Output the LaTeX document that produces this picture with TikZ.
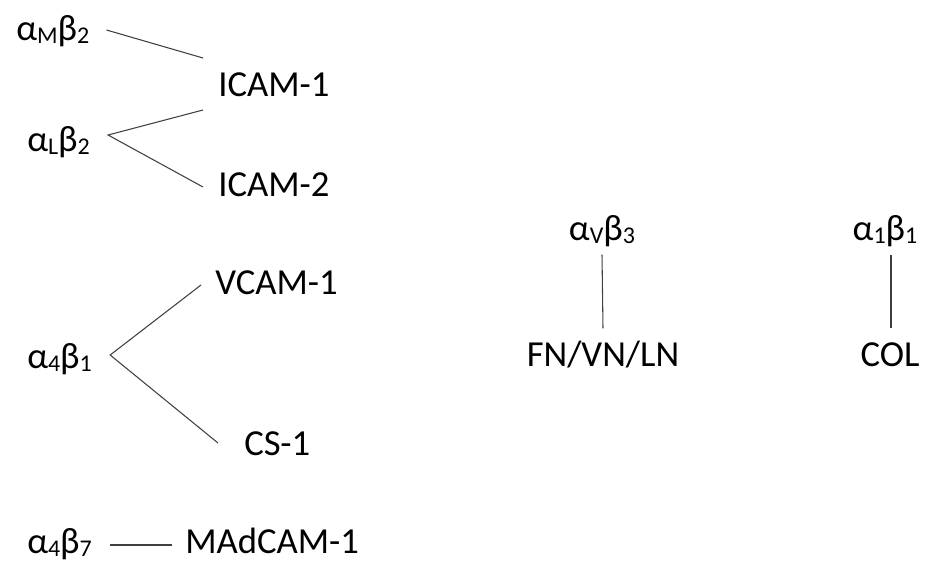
\documentclass[tikz,border=0pt]{standalone}
\usepackage{fontspec}
\setmainfont{Carlito}
\usetikzlibrary{calc}
\definecolor{linkgray}{HTML}{404040}
\newcommand{\lo}[1]{\raisebox{-2.6pt}{\fontsize{18}{18}\selectfont #1}}
\tikzset{
  lbl/.style={inner sep=0pt, text height=17pt, text depth=0pt, font=\fontsize{27.5}{30}\selectfont},
  link/.style={draw=linkgray, line width=0.8pt}
}

\begin{document}
\begin{tikzpicture}[x=0.75pt, y=-0.75pt]
  \useasboundingbox (0,0) rectangle (925,562);
  % integrins
  \node[lbl, anchor=west] (amb2) at (16,29) {α\lo{M}β\lo{2}};
  \node[lbl, anchor=west] (alb2) at (27,140) {α\lo{L}β\lo{2}};
  \node[lbl, anchor=west] (a4b1) at (27,357) {α\lo{4}β\lo{1}};
  \node[lbl, anchor=west] (a4b7) at (27,542) {α\lo{4}β\lo{7}};
  \node[lbl] (avb3) at (602,229) {α\lo{V}β\lo{3}};
  \node[lbl] (a1b1) at (885,229) {α\lo{1}β\lo{1}};
  % ligands
  \node[lbl, anchor=west] (icam1) at (218,85) {ICAM-1};
  \node[lbl, anchor=west] (icam2) at (218,185) {ICAM-2};
  \node[lbl, anchor=west] (vcam1) at (215,283) {VCAM-1};
  \node[lbl, anchor=west] (cs1) at (244,444) {CS-1};
  \node[lbl, anchor=west] (madcam) at (185,542) {MAdCAM-1};
  \node[lbl] (fvl) at (603,355) {FN/VN/LN};
  \node[lbl] (col) at (890,355) {COL};
  % bindings
  \draw[link] ($(amb2.east)+(17,1)$) -- ($(icam1.west)+(-15,-27)$);
  \draw[link] ($(icam1.west)+(-15,25)$) -- ($(alb2.east)+(18,-5)$) -- ($(icam2.west)+(-15,2)$);
  \draw[link] ($(vcam1.west)+(-14,2)$) -- ($(a4b1.east)+(18,-2)$) -- ($(cs1.west)+(-26,-1)$);
  \draw[link] ($(a4b7.east)+(18,3)$) -- ($(madcam.west)+(-13,3)$);
  \draw[link] ($(avb3.south)+(0,14)$) -- ($(fvl.north)+(0,-15)$);
  \draw[link] ($(a1b1.south)+(6,14)$) -- ($(col.north)+(1,-15)$);
\end{tikzpicture}
\end{document}
